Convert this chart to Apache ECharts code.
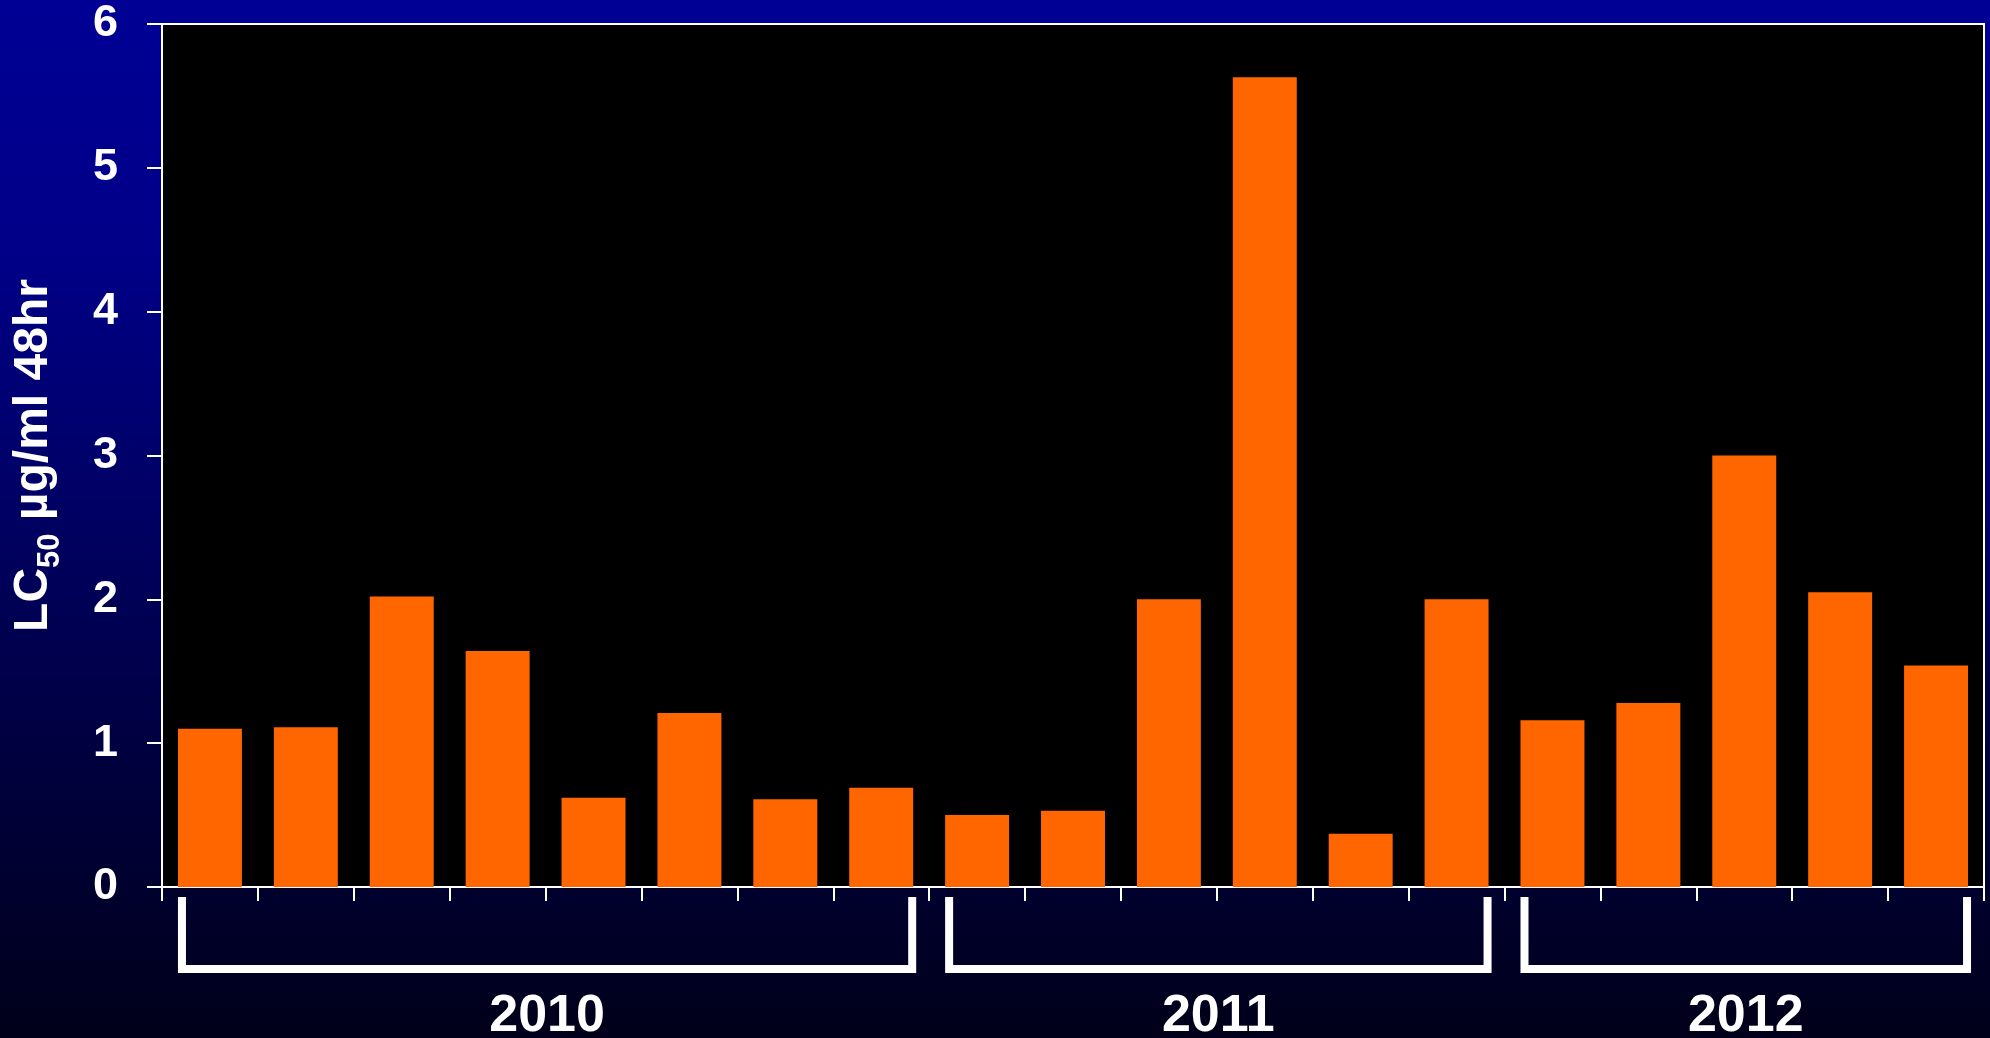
<!DOCTYPE html>
<html><head><meta charset="utf-8">
<style>html,body{margin:0;padding:0;width:1990px;height:1038px;overflow:hidden;background:#000040}
#c{width:1990px;height:1038px}</style>
<script src="https://cdn.jsdelivr.net/npm/echarts@6/dist/echarts.min.js"></script>
</head><body><div id="c"></div>
<script>
// ---- data ----
const categories = ['1','2','3','4','5','6','7','8','9','10','11','12','13','14','15','16','17','18','19'];
const lc50Values = [1.10, 1.11, 2.02, 1.64, 0.62, 1.21, 0.61, 0.69, 0.50, 0.53, 2.00, 5.63, 0.37, 2.00, 1.16, 1.28, 3.00, 2.05, 1.54];
const yearLabels = ['2010', '2011', '2012'];
const yearFirstIndex = [0, 8, 14];
const yearLastIndex = [7, 13, 18];
const yMin = 0, yMax = 6, yStep = 1;

// ---- style ----
const FONT = '"Liberation Sans", Arial, sans-serif';
const BAR_RATIO = 0.667;
const bracketData = yearLabels.map((y, i) => [yearFirstIndex[i], yearLastIndex[i], 0]);

const chart = echarts.init(document.getElementById('c'), null, {renderer: 'canvas'});
chart.setOption({
  animation: false,
  backgroundColor: {
    type: 'linear', x: 0, y: 0, x2: 0, y2: 1,
    colorStops: [
      {offset: 0, color: '#000094'},
      {offset: 0.24, color: '#000088'},
      {offset: 0.5, color: '#000062'},
      {offset: 0.68, color: '#000046'},
      {offset: 1, color: '#00001a'}
    ]
  },
  grid: {
    left: 162, right: 6, top: 24, bottom: 151,
    show: true, backgroundColor: '#000000', borderColor: '#ffffff', borderWidth: 2
  },
  xAxis: {
    type: 'category',
    data: categories,
    boundaryGap: true,
    axisLine: {show: true, lineStyle: {color: '#ffffff', width: 2}},
    axisTick: {show: true, interval: 0, length: 14, lineStyle: {color: '#ffffff', width: 2}},
    axisLabel: {show: false},
    splitLine: {show: false}
  },
  yAxis: {
    type: 'value',
    min: yMin, max: yMax, interval: yStep,
    name: '{a|LC}{b|50}{a| µg/ml 48hr}',
    nameLocation: 'middle',
    nameGap: 96,
    nameRotate: 90,
    nameTextStyle: {
      color: '#ffffff',
      rich: {
        a: {fontFamily: FONT, fontWeight: 'bold', fontSize: 48, lineHeight: 48, verticalAlign: 'top', color: '#ffffff'},
        b: {fontFamily: FONT, fontWeight: 'bold', fontSize: 31, lineHeight: 56, verticalAlign: 'bottom', color: '#ffffff'}
      }
    },
    axisLine: {show: true, lineStyle: {color: '#ffffff', width: 2}},
    axisTick: {show: true, length: 15, lineStyle: {color: '#ffffff', width: 2}},
    axisLabel: {color: '#ffffff', fontFamily: FONT, fontWeight: 'bold', fontSize: 45, margin: 44},
    splitLine: {show: false}
  },
  series: [
    {
      type: 'bar',
      data: lc50Values,
      barCategoryGap: ((1 - BAR_RATIO) * 100).toFixed(1) + '%',
      itemStyle: {color: '#ff6600'},
      z: 2
    },
    {
      type: 'custom',
      clip: false,
      silent: true,
      z: 5,
      encode: {x: [0, 1], y: 2},
      data: bracketData,
      renderItem: function (params, api) {
        const p0 = api.coord([api.value(0), 0]);
        const p1 = api.coord([api.value(1), 0]);
        const band = api.size([1, 0])[0];
        const barW = band * BAR_RATIO;
        const left = p0[0] - barW / 2 + 4;
        const right = p1[0] + barW / 2 - 1;
        const y0 = p0[1];
        return {
          type: 'group',
          children: [
            {
              type: 'polyline',
              shape: {points: [[left, y0 + 10], [left, y0 + 82], [right, y0 + 82], [right, y0 + 10]]},
              style: {stroke: '#ffffff', lineWidth: 8, fill: null, lineJoin: 'miter', lineCap: 'butt'}
            },
            {
              type: 'text',
              style: {
                text: yearLabels[params.dataIndex],
                x: (left + right) / 2, y: y0 + 130,
                fill: '#ffffff', font: 'bold 52px ' + FONT,
                align: 'center', verticalAlign: 'middle'
              }
            }
          ]
        };
      }
    }
  ]
});
</script></body></html>
